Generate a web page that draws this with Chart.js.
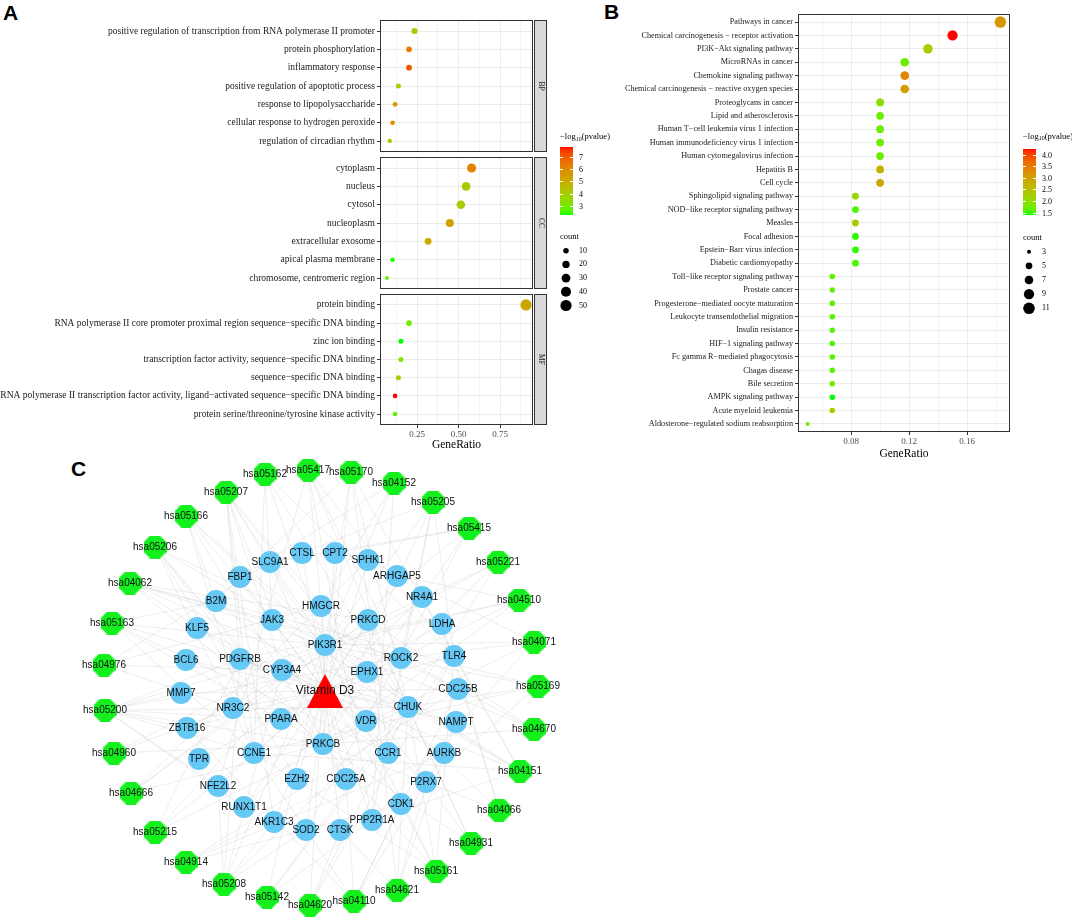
<!DOCTYPE html>
<html>
<head>
<meta charset="utf-8">
<script src="https://cdn.jsdelivr.net/npm/chart.js@4.4.1/dist/chart.umd.min.js"></script>
<style>
  body { margin: 0; background: #fff; }
  #page { position: relative; width: 1072px; height: 918px; overflow: hidden; }
  canvas { position: absolute; }
  .tag { position: absolute; font: bold 21px 'Liberation Sans', Arial, sans-serif; line-height: 21px; color: #000; }
</style>
</head>
<body>
<div id="page">
  <div class="tag" style="left:3px;top:2px">A</div>
  <div class="tag" style="left:604px;top:1px">B</div>
  <div class="tag" style="left:71px;top:458px">C</div>
</div>
<script>
// ---------- panel A : GO terms ----------
const bpTerms = ["positive regulation of transcription from RNA polymerase II promoter", "protein phosphorylation",
  "inflammatory response", "positive regulation of apoptotic process", "response to lipopolysaccharide",
  "cellular response to hydrogen peroxide", "regulation of circadian rhythm"];
const bpRatio = [0.234, 0.201, 0.201, 0.137, 0.117, 0.102, 0.085];
const bpCount = [13, 11, 11, 8, 7, 6, 5];
const bpLogP = [4.1, 6.4, 7.1, 4.0, 5.6, 6.0, 4.2];

const ccTerms = ["cytoplasm", "nucleus", "cytosol", "nucleoplasm", "extracellular exosome",
  "apical plasma membrane", "chromosome, centromeric region"];
const ccRatio = [0.578, 0.545, 0.513, 0.447, 0.316, 0.102, 0.068];
const ccCount = [32, 30, 28, 25, 17, 6, 4];
const ccLogP = [6.1, 4.1, 4.0, 5.3, 5.1, 2.3, 2.9];

const mfTerms = ["protein binding", "RNA polymerase II core promoter proximal region sequence\u2212specific DNA binding",
  "zinc ion binding", "transcription factor activity, sequence\u2212specific DNA binding", "sequence\u2212specific DNA binding",
  "RNA polymerase II transcription factor activity, ligand\u2212activated sequence\u2212specific DNA binding",
  "protein serine/threonine/tyrosine kinase activity"];
const mfRatio = [0.906, 0.201, 0.152, 0.152, 0.137, 0.117, 0.117];
const mfCount = [50, 11, 8, 8, 8, 6, 6];
const mfLogP = [5.2, 3.0, 2.24, 3.2, 3.9, 7.82, 2.8];

const goTicks = [0.125, 0.25, 0.375, 0.5, 0.625, 0.75, 0.875];
const goMajor = [0.25, 0.5, 0.75];
const goColorTicks = [3, 4, 5, 6, 7];
const goSizeKeys = [10, 20, 30, 40, 50];

// ---------- panel B : KEGG pathways ----------
const keggTerms = ["Pathways in cancer", "Chemical carcinogenesis \u2212 receptor activation", "PI3K\u2212Akt signaling pathway",
  "MicroRNAs in cancer", "Chemokine signaling pathway", "Chemical carcinogenesis \u2212 reactive oxygen species",
  "Proteoglycans in cancer", "Lipid and atherosclerosis", "Human T\u2212cell leukemia virus 1 infection",
  "Human immunodeficiency virus 1 infection", "Human cytomegalovirus infection", "Hepatitis B", "Cell cycle",
  "Sphingolipid signaling pathway", "NOD\u2212like receptor signaling pathway", "Measles", "Focal adhesion",
  "Epstein\u2212Barr virus infection", "Diabetic cardiomyopathy", "Toll\u2212like receptor signaling pathway",
  "Prostate cancer", "Progesterone\u2212mediated oocyte maturation", "Leukocyte transendothelial migration",
  "Insulin resistance", "HIF\u22121 signaling pathway", "Fc gamma R\u2212mediated phagocytosis", "Chagas disease",
  "Bile secretion", "AMPK signaling pathway", "Acute myeloid leukemia", "Aldosterone\u2212regulated sodium reabsorption"];
const keggCount = [11, 9, 8, 7, 7, 7, 6, 6, 6, 6, 6, 6, 6, 5, 5, 5, 5, 5, 5, 4, 4, 4, 4, 4, 4, 4, 4, 4, 4, 4, 3];
const keggRatio = [0.183, 0.150, 0.133, 0.117, 0.117, 0.117, 0.100, 0.100, 0.100, 0.100, 0.100, 0.100, 0.100,
  0.083, 0.083, 0.083, 0.083, 0.083, 0.083, 0.067, 0.067, 0.067, 0.067, 0.067, 0.067, 0.067, 0.067, 0.067,
  0.067, 0.067, 0.050];
const keggLogP = [3.1, 4.24, 2.3, 1.7, 3.3, 3.0, 2.0, 1.75, 1.75, 1.75, 1.75, 2.7, 2.9, 2.1, 1.55, 2.3, 1.45,
  1.45, 1.55, 1.65, 1.7, 1.65, 1.6, 1.6, 1.55, 1.6, 1.6, 1.8, 1.40, 2.2, 1.85];
const keggTicks = [0.06, 0.08, 0.10, 0.12, 0.14, 0.16, 0.18];
const keggMajor = [0.08, 0.12, 0.16];
const keggColorTicks = [1.5, 2.0, 2.5, 3.0, 3.5, 4.0];
const keggSizeKeys = [3, 5, 7, 9, 11];

// ---------- panel C : network ----------
const pathwayNodes = [
  ["hsa05417", 308, 470], ["hsa05162", 265, 474], ["hsa05170", 351, 472], ["hsa04152", 394, 483],
  ["hsa05207", 226, 492], ["hsa05205", 433, 502], ["hsa05166", 186, 516], ["hsa05415", 469, 528],
  ["hsa05206", 155, 547], ["hsa05221", 498, 562], ["hsa04062", 130, 583], ["hsa04510", 519, 600],
  ["hsa05163", 112, 623], ["hsa04071", 534, 642], ["hsa04976", 104, 665], ["hsa05169", 538, 686],
  ["hsa05200", 105, 710], ["hsa04670", 534, 729], ["hsa04960", 114, 753], ["hsa04151", 520, 771],
  ["hsa04666", 131, 793], ["hsa04066", 499, 810], ["hsa05215", 155, 832], ["hsa04931", 471, 843],
  ["hsa04914", 186, 862], ["hsa05161", 436, 871], ["hsa05208", 224, 884], ["hsa04621", 397, 890],
  ["hsa05142", 267, 897], ["hsa04110", 354, 901], ["hsa04620", 310, 905]];
const geneNodes = [
  ["CTSL", 302, 553], ["CPT2", 335, 553], ["SLC9A1", 270, 562], ["SPHK1", 368, 560], ["FBP1", 240, 577],
  ["ARHGAP5", 397, 576], ["B2M", 216, 601], ["NR4A1", 422, 597], ["HMGCR", 321, 606], ["JAK3", 272, 620],
  ["PRKCD", 368, 620], ["LDHA", 442, 624], ["KLF5", 197, 628], ["PIK3R1", 325, 645], ["TLR4", 454, 656],
  ["ROCK2", 401, 658], ["BCL6", 186, 660], ["PDGFRB", 240, 659], ["CYP3A4", 282, 670], ["EPHX1", 367, 672],
  ["MMP7", 181, 693], ["CDC25B", 458, 689], ["NR3C2", 233, 708], ["CHUK", 408, 707], ["PPARA", 281, 719],
  ["VDR", 366, 721], ["NAMPT", 456, 722], ["ZBTB16", 187, 728], ["PRKCB", 323, 744], ["CCNE1", 254, 753],
  ["CCR1", 388, 753], ["AURKB", 444, 753], ["TPR", 199, 759], ["EZH2", 297, 779], ["CDC25A", 346, 779],
  ["P2RX7", 426, 782], ["NFE2L2", 218, 786], ["RUNX1T1", 244, 807], ["CDK1", 401, 804], ["AKR1C3", 274, 822],
  ["PPP2R1A", 372, 820], ["SOD2", 306, 830], ["CTSK", 340, 830]];
const drugNode = ["Vitamin D3", 325, 691];
const pathwayLinks = [
  ["hsa05200", "PIK3R1 PRKCB CCNE1 CHUK PDGFRB ROCK2 NFE2L2 RUNX1T1 PPARA ZBTB16 MMP7"],
  ["hsa05207", "CYP3A4 VDR PIK3R1 PRKCB CHUK AKR1C3 CCNE1 PDGFRB EPHX1"],
  ["hsa04151", "PIK3R1 PDGFRB CCNE1 CHUK TLR4 JAK3 PPP2R1A NR4A1"],
  ["hsa05206", "EZH2 CDC25A CDC25B PIK3R1 PRKCB PDGFRB CCNE1"],
  ["hsa04062", "PIK3R1 PRKCB CHUK JAK3 CCR1 ROCK2 PRKCD"],
  ["hsa05208", "PIK3R1 NFE2L2 SOD2 CHUK PDGFRB AKR1C3 CYP3A4"],
  ["hsa05205", "PIK3R1 PRKCB ROCK2 TLR4 CTSL PPP2R1A"],
  ["hsa05417", "PIK3R1 CHUK TLR4 NFE2L2 ROCK2 PPP2R1A"],
  ["hsa05166", "PIK3R1 CHUK CCNE1 B2M JAK3 CDC25A"],
  ["hsa05170", "PIK3R1 CHUK TLR4 PRKCB B2M CCR1"],
  ["hsa05163", "PIK3R1 CHUK PRKCB B2M CCNE1 CCR1"],
  ["hsa05161", "PIK3R1 CHUK TLR4 PRKCB CCNE1 CDK1"],
  ["hsa04110", "CCNE1 CDC25A CDC25B CDK1 ZBTB16 AURKB"],
  ["hsa04071", "SPHK1 PIK3R1 PRKCB PPP2R1A ROCK2"],
  ["hsa04621", "CHUK P2RX7 CTSK PRKCD NAMPT"],
  ["hsa05162", "PIK3R1 CHUK TLR4 CCNE1 JAK3"],
  ["hsa04510", "PIK3R1 PRKCB PDGFRB ROCK2 ARHGAP5"],
  ["hsa05169", "PIK3R1 CHUK B2M CCNE1 CDK1"],
  ["hsa05415", "PIK3R1 PRKCB SLC9A1 CPT2 SOD2"],
  ["hsa04620", "PIK3R1 CHUK TLR4 CTSK"],
  ["hsa05215", "PIK3R1 CHUK CCNE1 PDGFRB"],
  ["hsa04914", "CDC25A CDC25B CDK1 AURKB"],
  ["hsa04670", "PIK3R1 PRKCB ROCK2 PRKCD"],
  ["hsa04931", "PIK3R1 PRKCB CHUK PRKCD"],
  ["hsa04066", "PIK3R1 PRKCB TLR4 LDHA"],
  ["hsa04666", "PIK3R1 PRKCB SPHK1 PRKCD"],
  ["hsa05142", "PIK3R1 CHUK TLR4 PPP2R1A"],
  ["hsa04976", "SLC9A1 HMGCR CYP3A4 NR3C2"],
  ["hsa04152", "PIK3R1 FBP1 HMGCR PPP2R1A"],
  ["hsa05221", "PIK3R1 CHUK RUNX1T1 ZBTB16"],
  ["hsa04960", "NR3C2 PIK3R1 PRKCB"]];

// ---------- helpers ----------
const SERIF = "'Liberation Serif', 'Times New Roman', serif";
const SANS = "'Liberation Sans', Arial, sans-serif";
const page = document.getElementById("page");

function addCanvas(left, top, w, h) {
  const c = document.createElement("canvas");
  c.width = w; c.height = h;
  c.style.left = left + "px"; c.style.top = top + "px";
  c.style.width = w + "px"; c.style.height = h + "px";
  page.appendChild(c);
  return c;
}

// green -> red gradient interpolated in Lab, like ggplot's scale_colour_gradient
function toLin(c) { c /= 255; return c <= 0.04045 ? c / 12.92 : Math.pow((c + 0.055) / 1.055, 2.4); }
function toSrgb(c) {
  c = c <= 0.0031308 ? 12.92 * c : 1.055 * Math.pow(c, 1 / 2.4) - 0.055;
  return Math.round(Math.max(0, Math.min(1, c)) * 255);
}
function rgb2lab(rgb) {
  const [r, g, b] = rgb.map(toLin);
  const X = (0.4124 * r + 0.3576 * g + 0.1805 * b) / 0.95047;
  const Y = 0.2126 * r + 0.7152 * g + 0.0722 * b;
  const Z = (0.0193 * r + 0.1192 * g + 0.9505 * b) / 1.08883;
  const f = t => t > 0.008856 ? Math.cbrt(t) : 7.787 * t + 16 / 116;
  return [116 * f(Y) - 16, 500 * (f(X) - f(Y)), 200 * (f(Y) - f(Z))];
}
function lab2rgb([L, a, bb]) {
  const fy = (L + 16) / 116, fx = fy + a / 500, fz = fy - bb / 200;
  const fi = t => t > 0.206893 ? t * t * t : (t - 16 / 116) / 7.787;
  const X = fi(fx) * 0.95047, Y = fi(fy), Z = fi(fz) * 1.08883;
  const r = 3.2406 * X - 1.5372 * Y - 0.4986 * Z;
  const g = -0.9689 * X + 1.8758 * Y + 0.0415 * Z;
  const b = 0.0557 * X - 0.2040 * Y + 1.0570 * Z;
  return "rgb(" + toSrgb(r) + "," + toSrgb(g) + "," + toSrgb(b) + ")";
}
const LAB_LOW = rgb2lab([0, 255, 0]), LAB_HIGH = rgb2lab([255, 0, 0]);
function gradColor(v, lo, hi) {
  const t = Math.max(0, Math.min(1, (v - lo) / (hi - lo)));
  return lab2rgb(LAB_LOW.map((l, i) => l + (LAB_HIGH[i] - l) * t));
}
// size scale: area linear in count, like scale_size
function sizeScale(cmin, cmax, rmin, rmax) {
  return c => Math.sqrt(rmin * rmin + (c - cmin) / (cmax - cmin) * (rmax * rmax - rmin * rmin));
}

const near = (a, list) => list.some(m => Math.abs(a - m) < 1e-6);

// panel frame + optional facet strip
function framePlugin(strip) {
  return {
    id: "frame",
    afterDraw(chart) {
      const a = chart.chartArea, ctx = chart.ctx;
      ctx.save();
      ctx.strokeStyle = "#333"; ctx.lineWidth = 1;
      ctx.strokeRect(a.left + 0.5, a.top + 0.5, a.right - a.left - 1, a.bottom - a.top - 1);
      if (strip) {
        ctx.fillStyle = "#d9d9d9";
        ctx.fillRect(a.right + 1, a.top, 12, a.bottom - a.top);
        ctx.strokeRect(a.right + 1.5, a.top + 0.5, 12, a.bottom - a.top - 1);
        ctx.translate(a.right + 7.5, (a.top + a.bottom) / 2);
        ctx.rotate(Math.PI / 2);
        ctx.fillStyle = "#1a1a1a"; ctx.font = "7.5px " + SERIF;
        ctx.textAlign = "center"; ctx.textBaseline = "middle";
        ctx.fillText(strip, 0, 0);
      }
      ctx.restore();
    }
  };
}

function dotChart(canvas, terms, ratio, count, logp, o) {
  const pts = terms.map((t, i) => ({ x: ratio[i], y: i }));
  new Chart(canvas, {
    type: "scatter",
    data: {
      datasets: [{
        data: pts,
        pointRadius: count.map(o.size),
        pointHoverRadius: count.map(o.size),
        pointBackgroundColor: logp.map(o.color),
        pointBorderWidth: 0
      }]
    },
    options: {
      responsive: false, animation: false, events: [],
      layout: { autoPadding: false, padding: { left: 0, right: o.padRight, top: 0, bottom: 0 } },
      plugins: { legend: { display: false }, tooltip: { enabled: false } },
      scales: {
        x: {
          type: "linear", min: o.xmin, max: o.xmax,
          afterBuildTicks: s => { s.ticks = o.xTicks.map(v => ({ value: v })); },
          ticks: {
            display: o.showX, autoSkip: false, maxRotation: 0, padding: 1,
            color: "#4d4d4d", font: { family: SERIF, size: 9 },
            callback: v => near(v, o.xMajor) ? v.toFixed(2) : ""
          },
          grid: {
            color: "#ebebeb",
            lineWidth: c => near(c.tick.value, o.xMajor) ? 1 : 0.6,
            drawTicks: o.showX, tickLength: 3,
            tickColor: c => near(c.tick.value, o.xMajor) ? "#333" : "rgba(0,0,0,0)"
          },
          border: { display: false },
          title: {
            display: o.showX, text: "GeneRatio", color: "#000",
            font: { family: SERIF, size: 11.5 }, padding: { top: 0, bottom: 3 }
          },
          afterFit: s => { s.height = o.xHeight; s.paddingLeft = 0; s.paddingRight = 0; }
        },
        y: {
          type: "linear", reverse: true, min: -0.6, max: terms.length - 0.4,
          afterBuildTicks: s => { s.ticks = terms.map((t, i) => ({ value: i })); },
          ticks: {
            autoSkip: false, padding: 2, color: "#1a1a1a",
            font: { family: SERIF, size: o.yFont, lineHeight: "1px" },
            callback: v => terms[v]
          },
          grid: { color: "#ebebeb", lineWidth: 1, tickLength: 3, tickColor: "#333" },
          border: { display: false },
          afterFit: s => { s.width = o.yWidth; s.paddingTop = 0; s.paddingBottom = 0; }
        }
      }
    },
    plugins: [framePlugin(o.strip)]
  });
}

function expandRange(vals) {
  const a = Math.min(...vals), b = Math.max(...vals), w = b - a;
  return [a - 0.05 * w, b + 0.05 * w];
}

// colour bar + size key, drawn on a small plain canvas
function legend(o) {
  const top = 125, c = addCanvas(o.left, top, o.width, 195), ctx = c.getContext("2d");
  ctx.textBaseline = "middle"; ctx.fillStyle = "#000";
  let x = 0;
  const ty = o.titleY - top;
  ctx.font = "8.5px " + SERIF; ctx.fillText("\u2212log", x, ty); x += ctx.measureText("\u2212log").width;
  ctx.font = "6px " + SERIF; ctx.fillText("10", x, ty + 2); x += ctx.measureText("10").width;
  ctx.font = "8.5px " + SERIF; ctx.fillText("(pvalue)", x, ty);
  // whole-pixel rows so the bar stays fully opaque
  const by = Math.round(o.barTop - top), bh = Math.round(o.barH);
  for (let i = 0; i < bh; i++) {
    ctx.fillStyle = gradColor(o.hi - (o.hi - o.lo) * (i + 0.5) / bh, o.lo, o.hi);
    ctx.fillRect(0, by + i, 13, 1);
  }
  ctx.font = "8px " + SERIF;
  o.ticks.forEach(v => {
    const y = Math.round(by + (o.hi - v) / (o.hi - o.lo) * bh);
    ctx.fillStyle = "#fff";
    ctx.fillRect(0, y, 3, 1); ctx.fillRect(10, y, 3, 1);
    ctx.fillStyle = "#000";
    ctx.fillText(o.fmt(v), 19, y + 0.5);
  });
  ctx.font = "8.5px " + SERIF;
  ctx.fillText("count", 0, o.countY - top);
  ctx.font = "8px " + SERIF;
  o.keys.forEach((k, i) => {
    const cy = o.keyTop + i * o.keyStep - top;
    ctx.beginPath(); ctx.arc(6, cy, o.size(k), 0, 2 * Math.PI); ctx.fill();
    ctx.fillText(String(k), 19, cy);
  });
}

// ---------- panel A ----------
const goAll = bpLogP.concat(ccLogP, mfLogP);
const goLo = Math.min(...goAll), goHi = Math.max(...goAll);
const goColor = v => gradColor(v, goLo, goHi);
const goCounts = bpCount.concat(ccCount, mfCount);
const goSize = sizeScale(Math.min(...goCounts), Math.max(...goCounts), 2, 5.6);
const [goXmin, goXmax] = expandRange(bpRatio.concat(ccRatio, mfRatio));
const goOpt = { xmin: goXmin, xmax: goXmax, xTicks: goTicks, xMajor: goMajor, yWidth: 380, yFont: 9.5,
  padRight: 14, color: goColor, size: goSize };

dotChart(addCanvas(0, 20, 547, 132), bpTerms, bpRatio, bpCount, bpLogP,
  Object.assign({}, goOpt, { showX: false, xHeight: 0, strip: "BP" }));
dotChart(addCanvas(0, 157, 547, 132), ccTerms, ccRatio, ccCount, ccLogP,
  Object.assign({}, goOpt, { showX: false, xHeight: 0, strip: "CC" }));
dotChart(addCanvas(0, 294, 547, 161), mfTerms, mfRatio, mfCount, mfLogP,
  Object.assign({}, goOpt, { showX: true, xHeight: 30, strip: "MF" }));

legend({ left: 560, width: 62, titleY: 137, barTop: 147, barH: 68, lo: goLo, hi: goHi, ticks: goColorTicks,
  fmt: v => String(v), countY: 237, keys: goSizeKeys, keyTop: 250.7, keyStep: 13.7, size: goSize });

// ---------- panel B ----------
const kLo = Math.min(...keggLogP), kHi = Math.max(...keggLogP);
const kSize = sizeScale(Math.min(...keggCount), Math.max(...keggCount), 2, 5.8);
const [kXmin, kXmax] = expandRange(keggRatio);
dotChart(addCanvas(560, 14, 451, 450), keggTerms, keggRatio, keggCount, keggLogP, {
  xmin: kXmin, xmax: kXmax, xTicks: keggTicks, xMajor: keggMajor, yWidth: 238, yFont: 8.2,
  padRight: 1, color: v => gradColor(v, kLo, kHi), size: kSize, showX: true, xHeight: 32, strip: null });

legend({ left: 1023, width: 49, titleY: 136.7, barTop: 149.3, barH: 66.4, lo: kLo, hi: kHi, ticks: keggColorTicks,
  fmt: v => v.toFixed(1), countY: 237.7, keys: keggSizeKeys, keyTop: 251.7, keyStep: 14.15, size: kSize });

// ---------- panel C ----------
function shapeCanvas(w, h, color, draw) {
  const c = document.createElement("canvas");
  c.width = w; c.height = h;
  const ctx = c.getContext("2d");
  ctx.fillStyle = color;
  ctx.beginPath(); draw(ctx, w, h); ctx.closePath(); ctx.fill();
  return c;
}
const octagon = shapeCanvas(23, 23, "#14f01e", (ctx, w, h) => {
  for (let k = 0; k < 8; k++) {
    const a = Math.PI / 8 + k * Math.PI / 4, r = 11.5 / Math.cos(Math.PI / 8);
    const px = w / 2 + r * Math.cos(a), py = h / 2 + r * Math.sin(a);
    k === 0 ? ctx.moveTo(px, py) : ctx.lineTo(px, py);
  }
});
const triangle = shapeCanvas(36, 34, "#ff0000", (ctx, w, h) => {
  ctx.moveTo(w / 2, 0); ctx.lineTo(w, h); ctx.lineTo(0, h);
});

const nodeMap = {};
pathwayNodes.concat(geneNodes, [drugNode]).forEach(n => { nodeMap[n[0]] = n; });

const edgePlugin = {
  id: "edges",
  beforeDatasetsDraw(chart) {
    const { ctx, scales: { x, y } } = chart;
    const line = (a, b) => {
      ctx.moveTo(x.getPixelForValue(a[1]), y.getPixelForValue(a[2]));
      ctx.lineTo(x.getPixelForValue(b[1]), y.getPixelForValue(b[2]));
    };
    ctx.save();
    ctx.strokeStyle = "rgba(185,185,185,0.42)"; ctx.lineWidth = 0.6;
    ctx.beginPath();
    pathwayLinks.forEach(([p, genes]) => genes.split(" ").forEach(g => line(nodeMap[p], nodeMap[g])));
    geneNodes.forEach(g => line(drugNode, g));
    ctx.stroke();
    ctx.restore();
  }
};
const labelPlugin = {
  id: "nodeLabels",
  afterDatasetsDraw(chart) {
    const { ctx, scales: { x, y } } = chart;
    ctx.save();
    ctx.fillStyle = "#111"; ctx.textAlign = "center"; ctx.textBaseline = "middle";
    ctx.font = "10px " + SANS;
    pathwayNodes.concat(geneNodes).forEach(([n, px, py]) =>
      ctx.fillText(n, x.getPixelForValue(px), y.getPixelForValue(py)));
    ctx.font = "12px " + SANS;
    ctx.fillText(drugNode[0], x.getPixelForValue(drugNode[1]), y.getPixelForValue(drugNode[2]));
    ctx.restore();
  }
};

new Chart(addCanvas(0, 450, 580, 468), {
  type: "scatter",
  data: {
    datasets: [
      { data: [{ x: drugNode[1], y: drugNode[2] }], pointStyle: triangle, pointRadius: 17 },
      { data: geneNodes.map(g => ({ x: g[1], y: g[2] })), pointStyle: "circle", pointRadius: 11,
        pointBackgroundColor: "#66c8f5", pointBorderWidth: 0 },
      { data: pathwayNodes.map(p => ({ x: p[1], y: p[2] })), pointStyle: octagon, pointRadius: 11 }
    ]
  },
  options: {
    responsive: false, animation: false, events: [],
    layout: { autoPadding: false, padding: 0 },
    plugins: { legend: { display: false }, tooltip: { enabled: false } },
    scales: {
      x: { type: "linear", display: false, min: 0, max: 580 },
      y: { type: "linear", display: false, min: 450, max: 918, reverse: true }
    }
  },
  plugins: [edgePlugin, labelPlugin]
});
</script>
</body>
</html>
